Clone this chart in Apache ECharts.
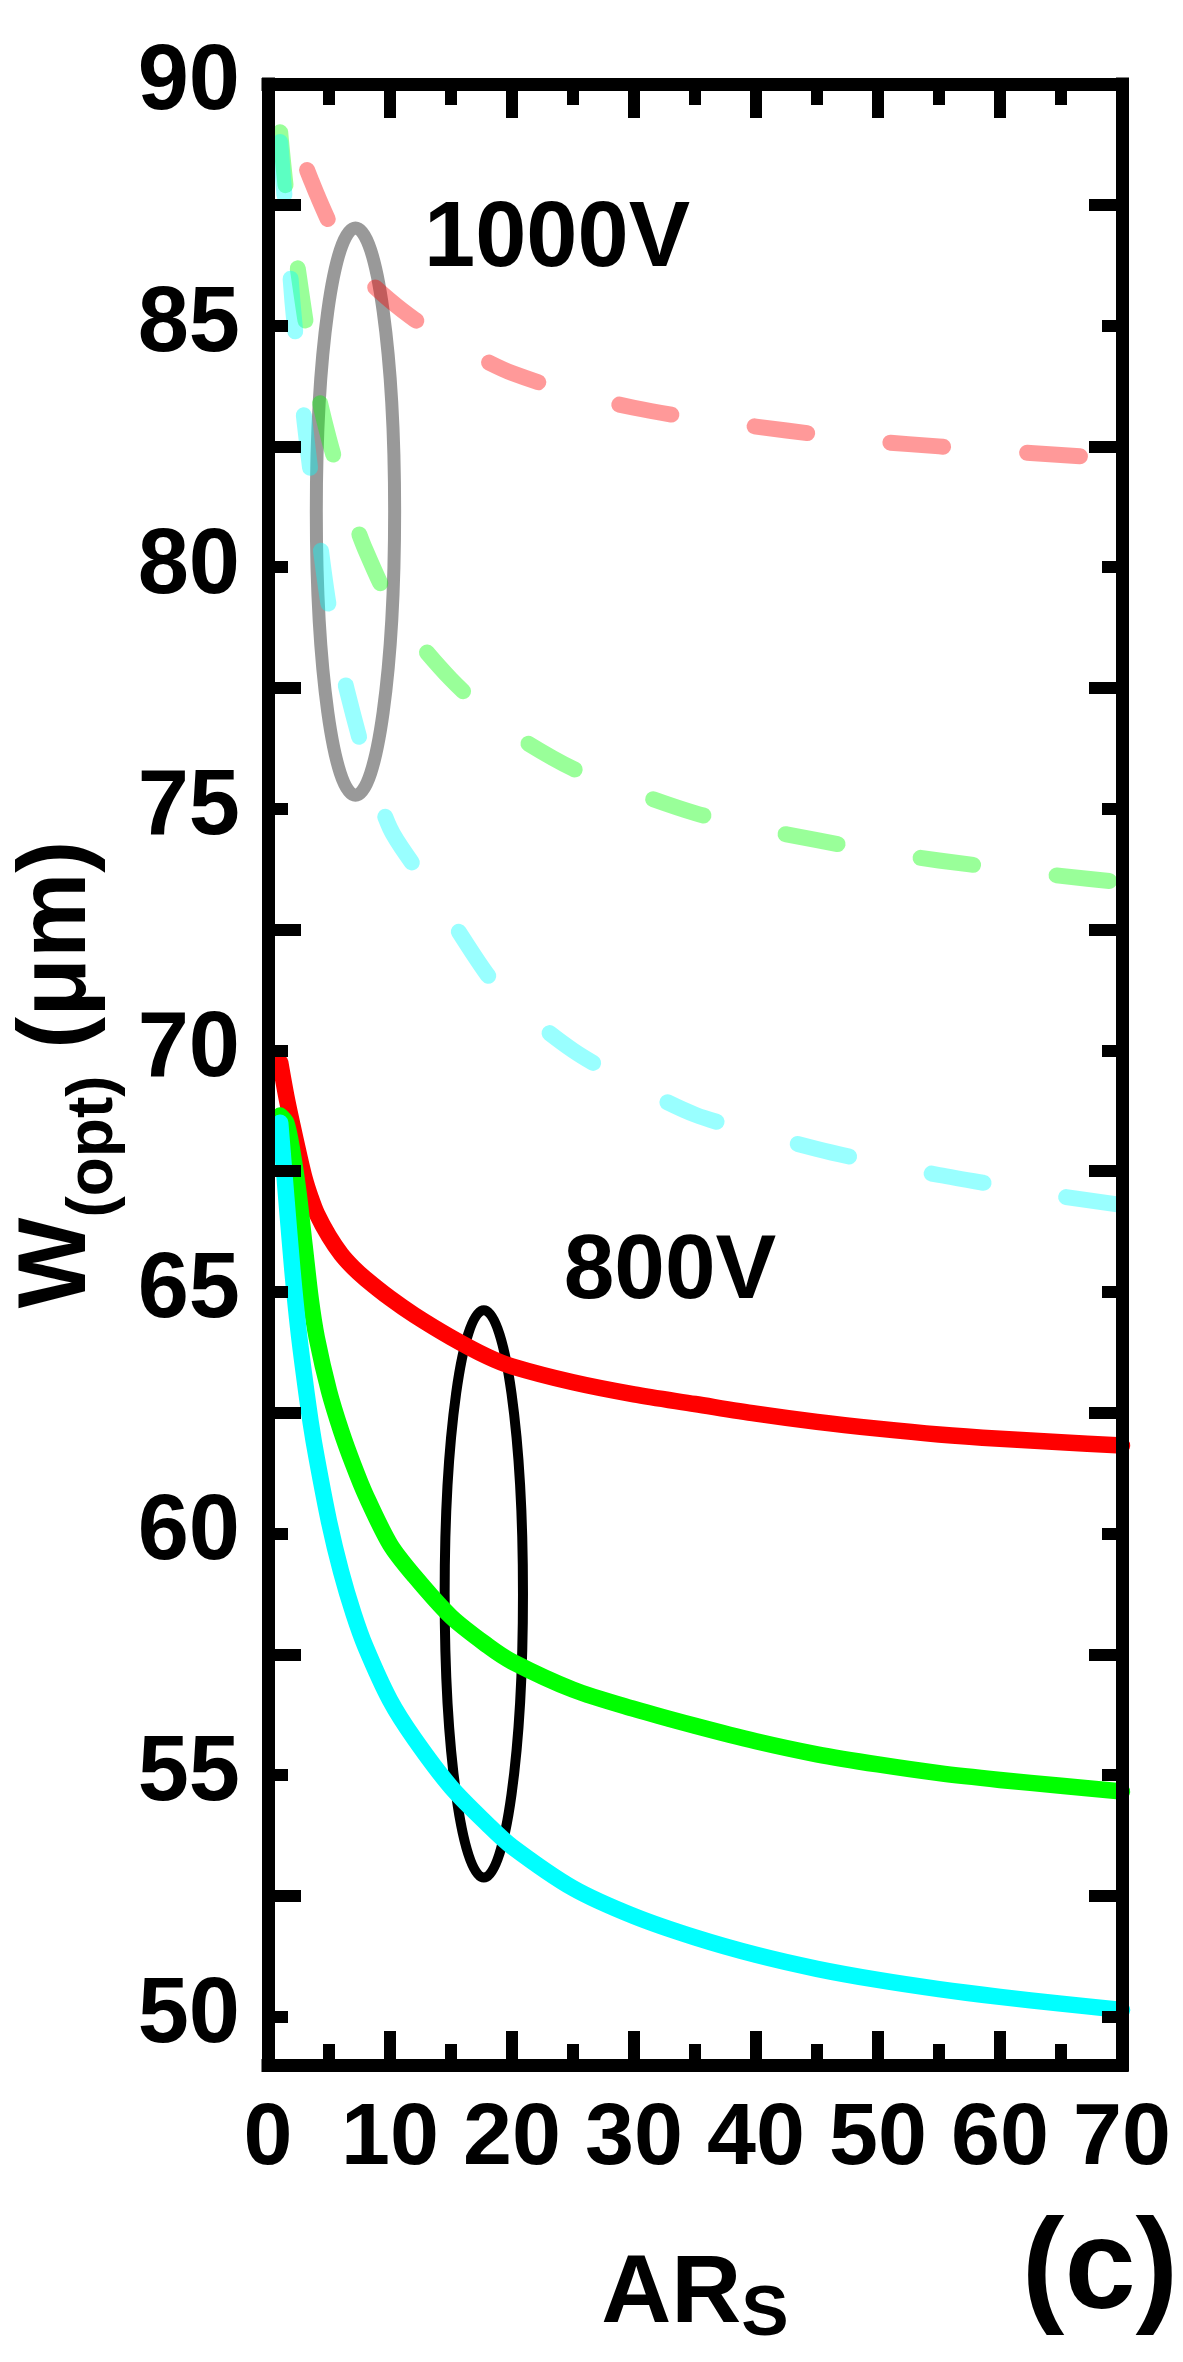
<!DOCTYPE html>
<html>
<head>
<meta charset="utf-8">
<title>W(opt) vs ARs</title>
<script src="https://cdn.jsdelivr.net/npm/echarts@6/dist/echarts.min.js"></script>
<style>
  html, body { margin: 0; padding: 0; background: #fff; }
  #chart { width: 1183px; height: 2362px; }
</style>
</head>
<body>
<div id="chart"></div>
<script>
// AR_S sample points, shared by all six curves
const arsX = [1, 1.5, 2, 2.5, 3, 3.5, 4, 5, 6, 7, 8, 10, 12, 15, 18, 20, 25, 30, 35, 40, 45, 50, 55, 60, 65, 70];

// 800V group (solid)
const red800 = [69.75, 69.05, 68.45, 67.88, 67.35, 66.95, 66.62, 66.15, 65.78, 65.5, 65.27, 64.87, 64.52, 64.06, 63.66, 63.46, 63.13, 62.88, 62.68, 62.48, 62.31, 62.17, 62.05, 61.96, 61.89, 61.82];
const green800 = [68.65, 68.5, 67.9, 67.05, 65.95, 64.85, 64.05, 62.95, 62.12, 61.42, 60.8, 59.78, 59.12, 58.28, 57.68, 57.35, 56.77, 56.37, 56.02, 55.7, 55.43, 55.22, 55.04, 54.9, 54.78, 54.66];
const cyan800 = [68.5, 66.95, 65.45, 64.2, 63.2, 62.3, 61.55, 60.25, 59.2, 58.35, 57.65, 56.55, 55.75, 54.75, 53.98, 53.52, 52.66, 52.08, 51.64, 51.28, 50.99, 50.76, 50.57, 50.41, 50.27, 50.14];

// 1000V group (dashed, faded)
const red1000 = [89.6, 89.3, 89.0, 88.67, 88.35, 88.03, 87.72, 87.15, 86.68, 86.28, 85.98, 85.52, 85.13, 84.65, 84.25, 84.02, 83.6, 83.3, 83.08, 82.91, 82.75, 82.6, 82.5, 82.41, 82.32, 82.24];
const green1000 = [89.0, 87.77, 86.95, 86.08, 85.22, 84.45, 83.7, 82.65, 81.78, 81.02, 80.35, 79.27, 78.55, 77.68, 76.97, 76.56, 75.83, 75.34, 74.91, 74.6, 74.35, 74.12, 73.93, 73.77, 73.61, 73.48];
const cyan1000 = [88.8, 87.2, 85.5, 84.2, 83.0, 81.95, 81.0, 79.17, 77.95, 76.93, 76.03, 74.6, 73.81, 72.7, 71.56, 71.0, 70.0, 69.28, 68.67, 68.3, 67.96, 67.67, 67.42, 67.2, 66.98, 66.8];

// tick values on the W axis
const yLabelTicks = [50, 55, 60, 65, 70, 75, 80, 85, 90];
const yHalfTicks = [52.5, 57.5, 62.5, 67.5, 72.5, 77.5, 82.5, 87.5];

// group ellipses: [centre ARs, centre W, half width, half height]
const ellipse800 = [[17.69, 58.75, 3.21, 5.87]];
const ellipse1000 = [[7.17, 81.15, 3.21, 5.87]];

const FONT = '"Liberation Sans", Arial, Helvetica, sans-serif';
const BLACK = '#000';

function pairs(ys) {
  return arsX.map((x, i) => [x, ys[i]]);
}

function solidSeries(color, ys) {
  return {
    type: 'line',
    xAxisIndex: 0,
    yAxisIndex: 0,
    data: pairs(ys),
    showSymbol: false,
    smooth: 0.3,
    lineStyle: { color: color, width: 16.5, cap: 'round', join: 'round' }
  };
}

function dashedSeries(color, ys, offset) {
  return {
    type: 'line',
    xAxisIndex: 0,
    yAxisIndex: 0,
    data: pairs(ys),
    showSymbol: false,
    smooth: 0.3,
    lineStyle: { color: color, width: 16, type: [53, 84], dashOffset: offset, cap: 'round', join: 'round' }
  };
}

function ellipseSeries(data, stroke, width) {
  return {
    type: 'custom',
    xAxisIndex: 0,
    yAxisIndex: 0,
    data: data,
    encode: { x: 0, y: 1 },
    renderItem: function (params, api) {
      const c = api.coord([api.value(0), api.value(1)]);
      const s = api.size([api.value(2), api.value(3)]);
      return {
        type: 'ellipse',
        shape: { cx: c[0], cy: c[1], rx: s[0], ry: s[1] },
        style: { fill: 'none', stroke: stroke, lineWidth: width }
      };
    }
  };
}

const frameLine = { show: true, onZero: false, lineStyle: { color: BLACK, width: 13, cap: 'square' } };
const tickStyle = { color: BLACK, width: 12 };

function xAxisOf(position, withLabels) {
  const axis = {
    gridIndex: 0,
    type: 'value',
    position: position,
    min: 0,
    max: 70,
    interval: 10,
    z: 10,
    axisLine: frameLine,
    axisTick: { show: true, inside: true, length: 34, lineStyle: tickStyle },
    minorTick: { show: true, splitNumber: 2, length: 21, lineStyle: tickStyle },
    splitLine: { show: false },
    axisLabel: { show: withLabels, color: BLACK, fontFamily: FONT, fontWeight: 'bold', fontSize: 88, margin: 31 }
  };
  if (withLabels) {
    axis.name = '{a|AR}{b|S}';
    axis.nameLocation = 'middle';
    axis.nameGap = 183;
    axis.nameTextStyle = {
      rich: {
        a: { fontFamily: FONT, fontWeight: 'bold', fontSize: 97, color: BLACK, lineHeight: 100, padding: [0, 0, 5, 0] },
        b: { fontFamily: FONT, fontWeight: 'bold', fontSize: 71, color: BLACK, lineHeight: 70, padding: [35, 0, 0, 0] }
      }
    };
  }
  return axis;
}

function yAxisOf(gridIndex, position, ticks, length, withLine, withLabels) {
  const axis = {
    gridIndex: gridIndex,
    type: 'value',
    position: position,
    min: 49,
    max: 90,
    z: 10,
    axisLine: withLine ? frameLine : { show: false },
    axisTick: { show: true, inside: true, length: length, customValues: ticks, lineStyle: tickStyle },
    splitLine: { show: false },
    axisLabel: withLabels
      ? { show: true, customValues: ticks, color: BLACK, fontFamily: FONT, fontWeight: 'bold', fontSize: 92, margin: 28 }
      : { show: false }
  };
  if (withLabels) {
    axis.name = '{a|W}{b|(opt)}{a| (μm)}';
    axis.nameLocation = 'middle';
    axis.nameRotate = 90;
    axis.nameGap = 144;
    axis.nameTextStyle = {
      rich: {
        a: { fontFamily: FONT, fontWeight: 'bold', fontSize: 96, color: BLACK, lineHeight: 100, padding: [0, 0, 18, 0] },
        b: { fontFamily: FONT, fontWeight: 'bold', fontSize: 64, color: BLACK, lineHeight: 64, padding: [54, 0, 0, 0] }
      }
    };
  }
  return axis;
}

function label(text, x, y, size) {
  return {
    type: 'text',
    x: x,
    y: y,
    z: 20,
    style: {
      text: text,
      font: 'bold ' + size + 'px ' + FONT,
      fill: BLACK,
      align: 'center',
      verticalAlign: 'middle',
      textAlign: 'center',
      textVerticalAlign: 'middle'
    }
  };
}

const chart = echarts.init(document.getElementById('chart'), null, { renderer: 'canvas' });

chart.setOption({
  animation: false,
  backgroundColor: '#fff',
  grid: [
    { left: 268, right: 61, top: 84, bottom: 297, containLabel: false },
    { left: 268, right: 61, top: 84, bottom: 297, containLabel: false }
  ],
  xAxis: [
    xAxisOf('bottom', true),
    xAxisOf('top', false),
    { gridIndex: 1, type: 'value', min: 0, max: 70, show: false }
  ],
  yAxis: [
    yAxisOf(0, 'left', yLabelTicks, 20, true, true),
    yAxisOf(0, 'right', yLabelTicks, 20, true, false),
    yAxisOf(1, 'left', yHalfTicks, 33, false, false),
    yAxisOf(1, 'right', yHalfTicks, 33, false, false)
  ],
  series: [
    dashedSeries('rgba(255,0,0,0.4)', red1000, 65),
    dashedSeries('rgba(0,255,0,0.4)', green1000, 0),
    dashedSeries('rgba(0,255,255,0.4)', cyan1000, 0),
    solidSeries('#ff0000', red800),
    solidSeries('#00ff00', green800),
    solidSeries('#00ffff', cyan800),
    ellipseSeries(ellipse1000, 'rgba(0,0,0,0.4)', 13),
    ellipseSeries(ellipse800, BLACK, 10)
  ],
  graphic: [
    label('1000V', 557, 241, 92),
    label('800V', 670, 1273, 91),
    label('(c)', 1100, 2273, 128)
  ]
});
</script>
</body>
</html>
